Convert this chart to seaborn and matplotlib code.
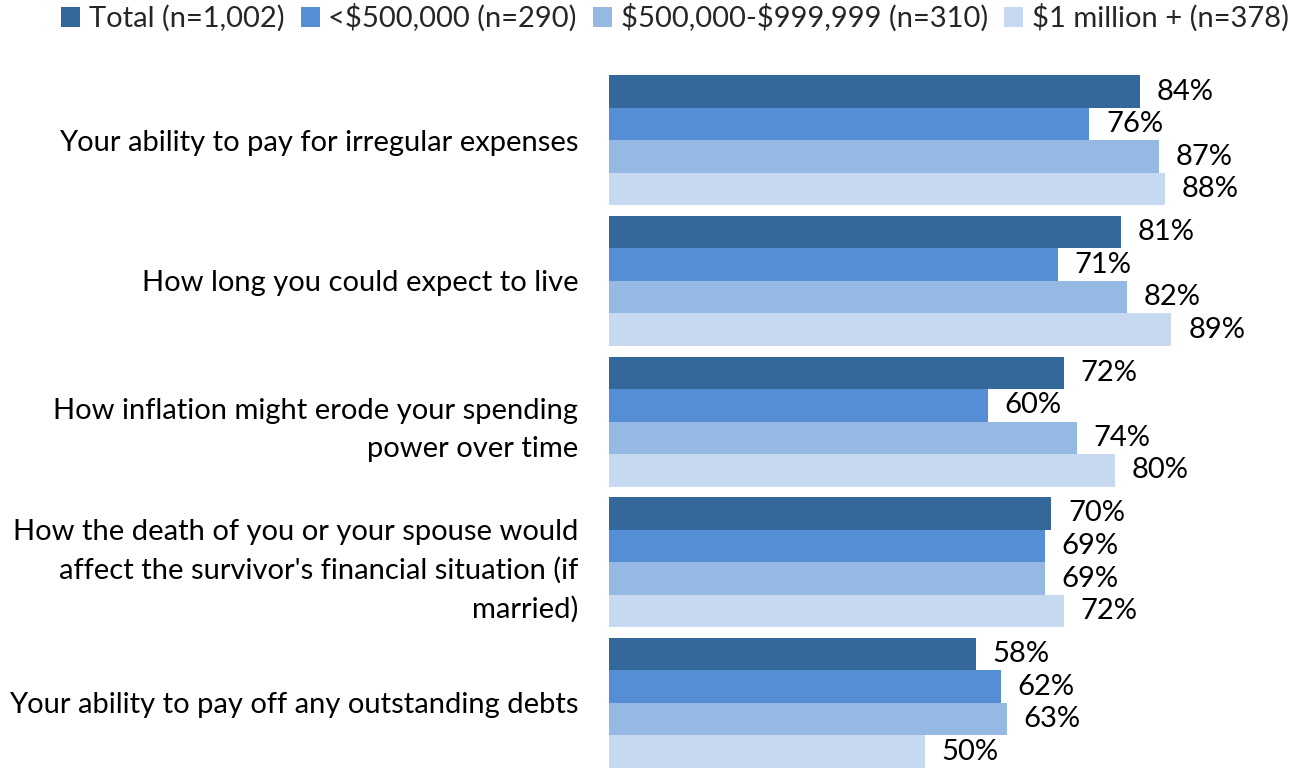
import matplotlib
matplotlib.use("Agg")
import matplotlib.pyplot as plt
import seaborn as sns
import pandas as pd

categories = [
    "Your ability to pay for irregular expenses",
    "How long you could expect to live",
    "How inflation might erode your spending\npower over time",
    "How the death of you or your spouse would\naffect the survivor's financial situation (if\nmarried)",
    "Your ability to pay off any outstanding debts",
]
series = ["Total (n=1,002)", "<$500,000 (n=290)", "$500,000-$999,999 (n=310)", "$1 million + (n=378)"]
total = [84, 81, 72, 70, 58]
under500k = [76, 71, 60, 69, 62]
mid = [87, 82, 74, 69, 63]
million = [88, 89, 80, 72, 50]
colors = ["#34679A", "#558ED5", "#95B9E3", "#C6D9F0"]

rows = []
for s, vals in zip(series, [total, under500k, mid, million]):
    for c, v in zip(categories, vals):
        rows.append({"cat": c, "series": s, "val": v})
df = pd.DataFrame(rows)

sns.set_theme(style="white")
plt.rcParams['font.family'] = ['Lato', 'DejaVu Sans']
plt.rcParams['text.parse_math'] = False

FS = 21

fig = plt.figure(figsize=(12.93, 7.69), dpi=100)
W, H = 1293, 769
left_px, top_px, bottom_px, right_px = 609, 70, 769, 1290
ax = fig.add_axes([left_px / W, 1 - bottom_px / H, (right_px - left_px) / W, (bottom_px - top_px) / H])

sns.barplot(data=df, y="cat", x="val", hue="series", order=categories, hue_order=series,
            palette=colors, orient="h", width=0.925, ax=ax, legend=False, saturation=1,
            edgecolor="none")

px_per_unit = 6.32
ax.set_xlim(0, (right_px - left_px) / px_per_unit)
ax.set_ylim(4.47, -0.5)

for cont in ax.containers:
    ax.bar_label(cont, labels=[f"{int(v)}%" for v in cont.datavalues], padding=12,
                 fontsize=FS, color="black")

ax.set_xlabel("")
ax.set_ylabel("")
ax.set_xticks([])
ax.tick_params(axis="y", length=0, pad=22, labelsize=FS, labelcolor="black")
for lab in ax.get_yticklabels():
    lab.set_horizontalalignment("right")
    lab.set_multialignment("right")
    lab.set_linespacing(1.55)
for sp in ax.spines.values():
    sp.set_visible(False)

from matplotlib.patches import Patch
handles = [Patch(facecolor=c, edgecolor="none") for c in colors]
fig.legend(handles, series, loc="center", bbox_to_anchor=(675 / W, 1 - 18 / H), ncol=4,
           frameon=False, fontsize=21, handlelength=0.65, handleheight=0.65,
           handletextpad=0.3, columnspacing=0.55, borderaxespad=0, borderpad=0)

fig.savefig("out.png", dpi=100)
